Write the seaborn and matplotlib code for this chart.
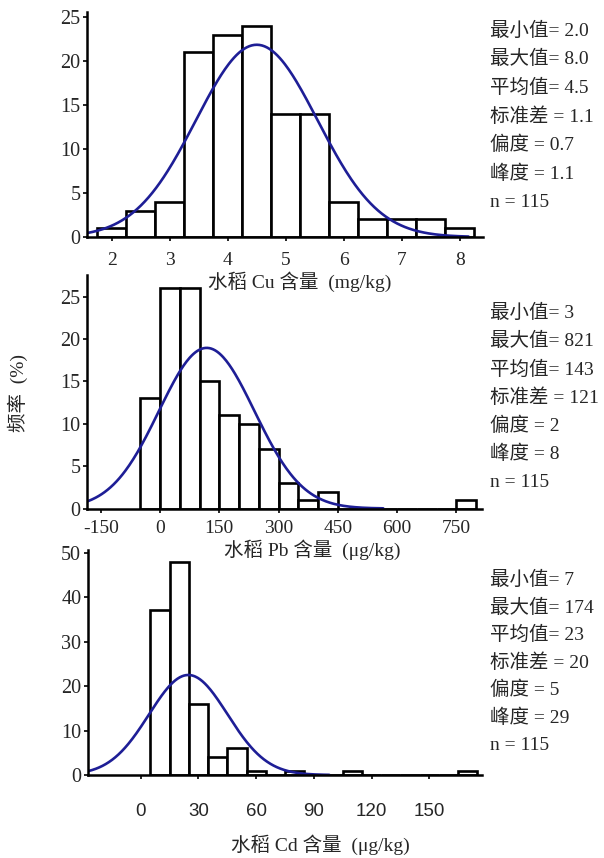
import numpy as np
import pandas as pd
import matplotlib
matplotlib.use("Agg")
import matplotlib.pyplot as plt
import seaborn as sns

# 频数（按读图估计），各分组的中心和宽度
cu_centers = [2.0, 2.5, 3.0, 3.5, 4.0, 4.5, 5.0, 5.5, 6.0, 6.5, 7.0, 7.5, 8.0]
cu_counts = [1, 3, 4, 21, 23, 24, 14, 14, 4, 2, 2, 2, 1]
cu_width = 0.5

pb_centers = [-25, 25, 75, 125, 175, 225, 275, 325, 375, 425, 775]
pb_counts = [13, 26, 26, 15, 11, 10, 7, 3, 1, 2, 1]
pb_width = 50

cd_centers = [10, 20, 30, 40, 50, 60, 80, 110, 170]
cd_counts = [37, 48, 16, 4, 6, 1, 1, 1, 1]
cd_width = 10

# 正态拟合曲线参数（均值、标准差、绘制范围）
cu_fit = (4.5, 1.05, 1.58, 8.15)
pb_fit = (118, 121, -183, 565)
cd_fit = (24.7, 20.4, -27.5, 98)

n_total = 115

stat_names = ['最小值', '最大值', '平均值', '标准差 ', '偏度 ', '峰度 ', 'n ']
cu_stats = ['2.0', '8.0', '4.5', '1.1', '0.7', '1.1', '115']
pb_stats = ['3', '821', '143', '121', '2', '8', '115']
cd_stats = ['7', '174', '23', '20', '5', '29', '115']

cu_xticks = [2, 3, 4, 5, 6, 7, 8]
pb_xticks = [-150, 0, 150, 300, 450, 600, 750]
cd_xticks = [0, 30, 60, 90, 120, 150]

xlabels = ['水稻 Cu 含量  (mg/kg)', '水稻 Pb 含量  (μg/kg)', '水稻 Cd 含量  (μg/kg)']

sns.set_style("ticks")
fonts = ['Liberation Serif', 'Noto Sans CJK SC']
plt.rcParams['font.family'] = fonts
plt.rcParams['axes.unicode_minus'] = False

W, H = 604, 858
fig = plt.figure(figsize=(W / 100, H / 100), dpi=100)


def make_ax(left, right, top, bottom):
    return fig.add_axes([left / W, 1 - bottom / H, (right - left) / W, (bottom - top) / H])


panels = [
    dict(box=(87, 483, 12, 237), centers=cu_centers, counts=cu_counts, width=cu_width,
         fit=cu_fit, xlim=(1.574, 8.40), ylim=(0, 25.57), xticks=cu_xticks,
         yticks=range(0, 26, 5), xpad=7.5, stats=cu_stats, sy=30.7, sdy=28.6,
         lab=(300, 282)),
    dict(box=(87, 482, 275, 508.5), centers=pb_centers, counts=pb_counts, width=pb_width,
         fit=pb_fit, xlim=(-185, 815), ylim=(0, 27.56), xticks=pb_xticks,
         yticks=range(0, 26, 5), xpad=5, stats=pb_stats, sy=313, sdy=28.2,
         lab=(312, 550)),
    dict(box=(87.5, 482, 550, 775), centers=cd_centers, counts=cd_counts, width=cd_width,
         fit=cd_fit, xlim=(-27.7, 177.4), ylim=(0, 50.6), xticks=cd_xticks,
         yticks=range(0, 51, 10), xpad=17, stats=cd_stats, sy=580, sdy=27.5,
         lab=(320, 845)),
]

axes = []
for i, p in enumerate(panels):
    left, right, top, bottom = p['box']
    ax = make_ax(left, right, top, bottom)
    ax.set_facecolor('none')
    w = p['width']
    lo = min(p['centers']) - w / 2
    hi = max(p['centers']) + w / 2
    edges = [float(e) for e in np.arange(lo, hi + w / 2, w)]
    df = pd.DataFrame({'value': p['centers'], 'freq': p['counts']})
    sns.histplot(data=df, x='value', weights='freq', bins=edges, ax=ax,
                 color='white', edgecolor='black', linewidth=1.9, alpha=1)

    mu, sd, x0, x1 = p['fit']
    xs = np.linspace(x0, x1, 300)
    ys = n_total * w / (sd * np.sqrt(2 * np.pi)) * np.exp(-0.5 * ((xs - mu) / sd) ** 2)
    sns.lineplot(x=xs, y=ys, ax=ax, color='#1e1e96', linewidth=1.9)

    ax.set_xlim(*p['xlim'])
    ax.set_ylim(*p['ylim'])
    ax.set_xticks(p['xticks'])
    ax.set_yticks(list(p['yticks']))
    ax.tick_params(axis='both', direction='out', length=3, width=1.2, color='black')
    ax.tick_params(axis='y', labelsize=14.5, pad=1.5)
    ax.tick_params(axis='x', labelsize=14, pad=p['xpad'])
    if i == 2:
        for t in ax.get_xticklabels():
            t.set_fontfamily('Liberation Sans')
            t.set_fontsize(13.5)
    sns.despine(ax=ax)
    for s in ['left', 'bottom']:
        ax.spines[s].set_linewidth(1.8)
        ax.spines[s].set_color('black')
    ax.set_ylabel('')
    ax.set_xlabel(xlabels[i], fontsize=14, va='center')
    lx, ly = p['lab']
    ax.xaxis.set_label_coords((lx - left) / (right - left), -(ly - bottom) / (bottom - top))

    for k, (name, val) in enumerate(zip(stat_names, p['stats'])):
        fig.text(490 / W, 1 - (p['sy'] + k * p['sdy']) / H, f"{name}= {val}",
                 fontsize=14, va='center', ha='left')
    axes.append(ax)

ax2 = axes[1]
ax2.set_ylabel('频率  (%)', fontsize=14, va='center')
ax2.yaxis.set_label_coords((17.5 - 87) / (482 - 87), (508.5 - 393) / (508.5 - 275))

fig.savefig('out.png', dpi=100)
